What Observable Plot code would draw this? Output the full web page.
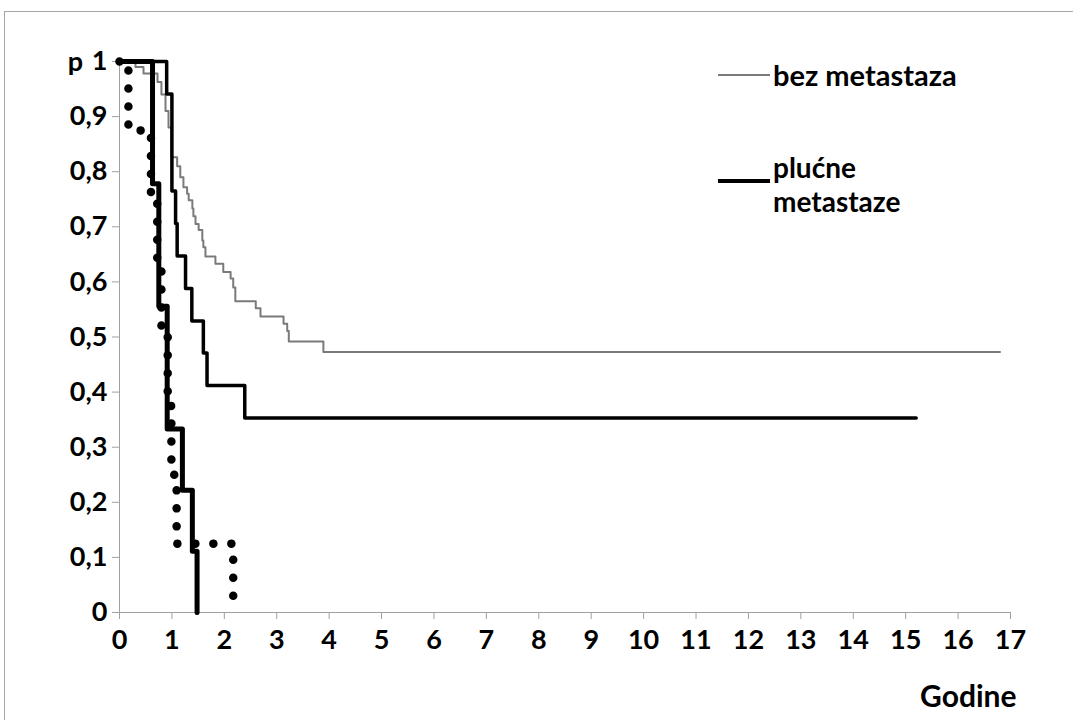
<!DOCTYPE html>
<html><head><meta charset="utf-8">
<script src="https://cdn.jsdelivr.net/npm/d3@7"></script>
<script src="https://cdn.jsdelivr.net/npm/@observablehq/plot@0.6"></script>
<style>
body{margin:0;background:#fff;}
#wrap{position:relative;width:1073px;height:720px;overflow:hidden;font-family:Lato,"Open Sans",sans-serif;}
#frame{position:absolute;left:4px;top:11px;width:1200px;height:800px;border:1px solid #a6a6a6;}
#chart{position:absolute;left:0;top:0;}
.leg{position:absolute;font-weight:bold;font-size:29px;line-height:32px;color:#000;white-space:nowrap;}
.leg2{position:absolute;font-weight:bold;font-size:28px;line-height:33px;color:#000;white-space:nowrap;}
.sw{position:absolute;}
</style></head><body>
<div id="wrap"><div id="frame"></div><div id="chart"></div>
<div class="sw" style="left:718px;top:74px;width:52px;height:2px;background:#7a7a7a"></div>
<div class="leg" style="left:773px;top:59px">bez metastaza</div>
<div class="sw" style="left:718px;top:179px;width:52px;height:4px;background:#000"></div>
<div class="leg2" style="left:773px;top:151px">plućne</div>
<div class="leg2" style="left:773px;top:185px">metastaze</div>
</div>
<script>
// Kaplan-Meier curves (years, survival probability)
const grayT = [0, 0.305, 0.458, 0.725, 0.80, 0.878, 0.935, 0.99, 1.10, 1.16, 1.22, 1.29, 1.32, 1.39, 1.41, 1.45, 1.51, 1.58, 1.60, 1.64, 1.83, 1.98, 2.12, 2.17, 2.21, 2.60, 2.69, 3.13, 3.20, 3.23, 3.89, 16.8];
const grayS = [1, 0.99, 0.978, 0.963, 0.94, 0.91, 0.88, 0.826, 0.81, 0.79, 0.772, 0.76, 0.748, 0.733, 0.719, 0.705, 0.694, 0.675, 0.663, 0.646, 0.633, 0.618, 0.606, 0.59, 0.565, 0.552, 0.537, 0.524, 0.511, 0.492, 0.473, 0.473];
const plucT = [0, 0.9, 1.0, 1.07, 1.10, 1.26, 1.38, 1.60, 1.67, 2.39, 15.2];
const plucS = [1, 0.941, 0.765, 0.706, 0.647, 0.588, 0.529, 0.471, 0.412, 0.353, 0.353];
const multiT = [0, 0.63, 0.75, 0.91, 1.2, 1.39, 1.48];
const multiS = [1, 0.778, 0.556, 0.333, 0.222, 0.111, 0];
const dotT = [0, 0.17, 0.6, 0.72, 0.8, 0.92, 0.99, 1.09, 2.17];
const dotS = [1, 0.875, 0.75, 0.625, 0.5, 0.375, 0.25, 0.125, 0];
const xTicks = d3.range(0, 18);
const yTicks = d3.range(0, 11).map(i => i / 10);
const yLabel = "p";
const xLabel = "Godine";

const toRows = (T, S) => T.map((t, i) => ({t, s: S[i]}));
const fmt = d => String(d).replace(".", ",");

const chart = Plot.plot({
  width: 1073, height: 720,
  marginLeft: 119, marginRight: 63, marginTop: 61, marginBottom: 108,
  style: {fontFamily: "Lato, 'Open Sans', sans-serif", fontSize: "27px", fontWeight: "bold", background: "transparent", overflow: "visible"},
  x: {domain: [0, 17]},
  y: {domain: [0, 1]},
  marks: [
    Plot.axisX({ticks: xTicks, tickSize: 7, tickPadding: 10, tickFormat: fmt, stroke: "#a0a0a0", fill: "#000", label: null}),
    Plot.axisY({ticks: yTicks, tickSize: 7, tickPadding: 5, tickFormat: fmt, stroke: "#a0a0a0", fill: "#000", label: null}),
    Plot.ruleX([0], {stroke: "#a0a0a0"}),
    Plot.ruleY([0], {stroke: "#a0a0a0"}),
    Plot.line(toRows(grayT, grayS), {x: "t", y: "s", curve: "step-after", stroke: "#7a7a7a", strokeWidth: 2}),
    Plot.line(toRows(dotT, dotS), {x: "t", y: "s", curve: "step-after", stroke: "#000", strokeWidth: 8.5, strokeLinecap: "round", strokeDasharray: "0,18"}),
    Plot.line(toRows(plucT, plucS), {x: "t", y: "s", curve: "step-after", stroke: "#000", strokeWidth: 3.5}),
    Plot.line(toRows(multiT, multiS), {x: "t", y: "s", curve: "step-after", stroke: "#000", strokeWidth: 5}),
    Plot.text([yLabel], {text: d => d, frameAnchor: "top-left", dx: -44, dy: 1, textAnchor: "middle", lineAnchor: "middle"}),
    Plot.text([xLabel], {text: d => d, frameAnchor: "bottom-right", dx: 6, dy: 85, textAnchor: "end", lineAnchor: "middle", fontSize: 30})
  ]
});
document.getElementById("chart").appendChild(chart);
</script>
</body></html>
